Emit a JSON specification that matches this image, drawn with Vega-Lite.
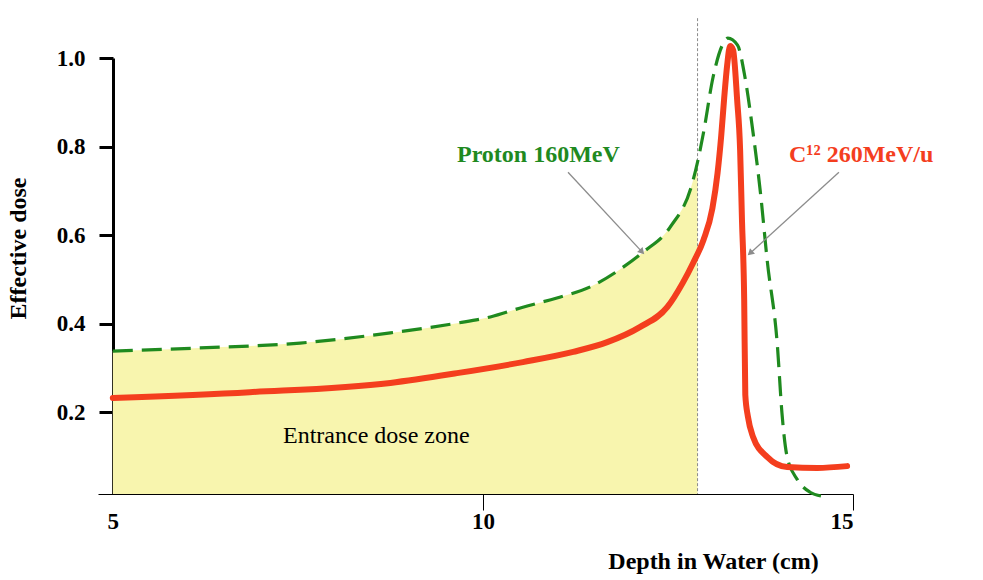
{
  "$schema": "https://vega.github.io/schema/vega-lite/v6.json",
  "width": 755,
  "height": 436,
  "autosize": {"type": "none"},
  "padding": {"left": 98, "top": 58, "right": 130, "bottom": 86},
  "background": "white",
  "config": {"font": "Liberation Serif", "view": {"stroke": null}},
  "datasets": {
    "curves": [
      {"beam": "Proton 160MeV", "depth": 5.0, "dose": 0.338},
      {"beam": "Proton 160MeV", "depth": 6.18, "dose": 0.345},
      {"beam": "Proton 160MeV", "depth": 7.53, "dose": 0.356},
      {"beam": "Proton 160MeV", "depth": 8.75, "dose": 0.379},
      {"beam": "Proton 160MeV", "depth": 9.65, "dose": 0.401},
      {"beam": "Proton 160MeV", "depth": 10.1, "dose": 0.415},
      {"beam": "Proton 160MeV", "depth": 10.54, "dose": 0.437},
      {"beam": "Proton 160MeV", "depth": 11.0, "dose": 0.458},
      {"beam": "Proton 160MeV", "depth": 11.45, "dose": 0.483},
      {"beam": "Proton 160MeV", "depth": 11.9, "dose": 0.528},
      {"beam": "Proton 160MeV", "depth": 12.17, "dose": 0.562},
      {"beam": "Proton 160MeV", "depth": 12.53, "dose": 0.618},
      {"beam": "Proton 160MeV", "depth": 12.83, "dose": 0.718},
      {"beam": "Proton 160MeV", "depth": 12.9, "dose": 0.765},
      {"beam": "Proton 160MeV", "depth": 12.98, "dose": 0.831},
      {"beam": "Proton 160MeV", "depth": 13.11, "dose": 0.957},
      {"beam": "Proton 160MeV", "depth": 13.25, "dose": 1.034},
      {"beam": "Proton 160MeV", "depth": 13.31, "dose": 1.045},
      {"beam": "Proton 160MeV", "depth": 13.44, "dose": 1.029},
      {"beam": "Proton 160MeV", "depth": 13.54, "dose": 0.957},
      {"beam": "Proton 160MeV", "depth": 13.65, "dose": 0.831},
      {"beam": "Proton 160MeV", "depth": 13.75, "dose": 0.695},
      {"beam": "Proton 160MeV", "depth": 13.84, "dose": 0.544},
      {"beam": "Proton 160MeV", "depth": 13.98, "dose": 0.347},
      {"beam": "Proton 160MeV", "depth": 14.04, "dose": 0.198},
      {"beam": "Proton 160MeV", "depth": 14.11, "dose": 0.099},
      {"beam": "Proton 160MeV", "depth": 14.25, "dose": 0.047},
      {"beam": "Proton 160MeV", "depth": 14.42, "dose": 0.019},
      {"beam": "Proton 160MeV", "depth": 14.58, "dose": 0.01},
      {"beam": "C12 260MeV/u", "depth": 5.0, "dose": 0.232},
      {"beam": "C12 260MeV/u", "depth": 6.85, "dose": 0.245},
      {"beam": "C12 260MeV/u", "depth": 8.75, "dose": 0.266},
      {"beam": "C12 260MeV/u", "depth": 9.65, "dose": 0.288},
      {"beam": "C12 260MeV/u", "depth": 10.54, "dose": 0.313},
      {"beam": "C12 260MeV/u", "depth": 11.22, "dose": 0.336},
      {"beam": "C12 260MeV/u", "depth": 11.68, "dose": 0.358},
      {"beam": "C12 260MeV/u", "depth": 12.12, "dose": 0.392},
      {"beam": "C12 260MeV/u", "depth": 12.49, "dose": 0.437},
      {"beam": "C12 260MeV/u", "depth": 12.7, "dose": 0.492},
      {"beam": "C12 260MeV/u", "depth": 12.84, "dose": 0.537},
      {"beam": "C12 260MeV/u", "depth": 12.98, "dose": 0.589},
      {"beam": "C12 260MeV/u", "depth": 13.1, "dose": 0.66},
      {"beam": "C12 260MeV/u", "depth": 13.17, "dose": 0.74},
      {"beam": "C12 260MeV/u", "depth": 13.22, "dose": 0.825},
      {"beam": "C12 260MeV/u", "depth": 13.26, "dose": 0.91},
      {"beam": "C12 260MeV/u", "depth": 13.3, "dose": 0.984},
      {"beam": "C12 260MeV/u", "depth": 13.34, "dose": 1.027},
      {"beam": "C12 260MeV/u", "depth": 13.38, "dose": 1.018},
      {"beam": "C12 260MeV/u", "depth": 13.435, "dose": 0.905},
      {"beam": "C12 260MeV/u", "depth": 13.475, "dose": 0.792},
      {"beam": "C12 260MeV/u", "depth": 13.5, "dose": 0.634},
      {"beam": "C12 260MeV/u", "depth": 13.53, "dose": 0.454},
      {"beam": "C12 260MeV/u", "depth": 13.545, "dose": 0.239},
      {"beam": "C12 260MeV/u", "depth": 13.58, "dose": 0.19},
      {"beam": "C12 260MeV/u", "depth": 13.65, "dose": 0.144},
      {"beam": "C12 260MeV/u", "depth": 13.84, "dose": 0.099},
      {"beam": "C12 260MeV/u", "depth": 14.11, "dose": 0.076},
      {"beam": "C12 260MeV/u", "depth": 14.52, "dose": 0.074},
      {"beam": "C12 260MeV/u", "depth": 14.92, "dose": 0.078}
    ],
    "arrows": [
      {"beam": "Proton 160MeV", "x1": 11.15, "y1": 0.742, "x2": 12.15, "y2": 0.562},
      {"beam": "C12 260MeV/u", "x1": 14.81, "y1": 0.742, "x2": 13.61, "y2": 0.559}
    ]
  },
  "layer": [
    {
      "data": {"name": "curves"},
      "transform": [{"filter": "datum.beam == 'Proton 160MeV' && datum.depth <= 12.9"}],
      "mark": {"type": "area", "color": "#f8f5ae", "interpolate": "monotone"},
      "encoding": {
        "x": {
          "field": "depth", "type": "quantitative",
          "scale": {"domain": [4.8, 15], "nice": false, "zero": false},
          "axis": {
            "values": [5, 10, 15], "format": "d", "title": "Depth in Water (cm)",
            "grid": false, "domainColor": "black", "domainWidth": 1,
            "tickColor": {"condition": {"test": "datum.value == 5", "value": "transparent"}, "value": "black"},
            "tickWidth": 1, "tickSize": 16,
            "labelFont": "Liberation Serif", "labelFontSize": 23, "labelFontWeight": "bold", "labelColor": "black",
            "labelPadding": 0,
            "titleFont": "Liberation Serif", "titleFontSize": 24, "titleFontWeight": "bold", "titleColor": "black",
            "titleX": 615, "titleY": 74, "titleAlign": "center", "titleBaseline": "alphabetic"
          }
        },
        "y": {
          "field": "dose", "type": "quantitative",
          "scale": {"domain": [0.015, 1.0], "nice": false, "zero": false},
          "axis": {
            "values": [0.2, 0.4, 0.6, 0.8, 1.0], "format": ".1f", "title": "Effective dose",
            "grid": false, "offset": -15, "domainColor": "black", "domainWidth": 3,
            "tickColor": "black", "tickWidth": 3, "tickSize": 14,
            "labelFont": "Liberation Serif", "labelFontSize": 23, "labelFontWeight": "bold", "labelColor": "black",
            "labelPadding": 14,
            "titleFont": "Liberation Serif", "titleFontSize": 24, "titleFontWeight": "bold", "titleColor": "black",
            "titleX": -95, "titleY": 190, "titleAngle": -90, "titleAlign": "center", "titleBaseline": "middle"
          }
        },
        "y2": {"datum": 0.015}
      }
    },
    {
      "data": {"values": [{"depth": 12.9}]},
      "mark": {"type": "rule", "color": "#8a8a8a", "strokeWidth": 1, "strokeDash": [3, 2]},
      "encoding": {
        "x": {"field": "depth", "type": "quantitative"},
        "y": {"datum": 1.09, "type": "quantitative"},
        "y2": {"datum": 0.015}
      }
    },
    {
      "data": {"name": "curves"},
      "transform": [{"filter": "datum.beam == 'Proton 160MeV'"}],
      "mark": {"type": "line", "color": "#1f8a1f", "strokeWidth": 3.2, "strokeDash": [20, 9], "interpolate": "monotone"},
      "encoding": {
        "x": {"field": "depth", "type": "quantitative"},
        "y": {"field": "dose", "type": "quantitative"}
      }
    },
    {
      "data": {"name": "curves"},
      "transform": [{"filter": "datum.beam == 'C12 260MeV/u'"}],
      "mark": {"type": "line", "color": "#f43e1e", "strokeWidth": 6, "interpolate": "monotone", "strokeCap": "round"},
      "encoding": {
        "x": {"field": "depth", "type": "quantitative"},
        "y": {"field": "dose", "type": "quantitative"}
      }
    },
    {
      "data": {"name": "arrows"},
      "mark": {"type": "rule", "color": "#8c8c8c", "strokeWidth": 1.3},
      "encoding": {
        "x": {"field": "x1", "type": "quantitative"},
        "y": {"field": "y1", "type": "quantitative"},
        "x2": {"field": "x2"},
        "y2": {"field": "y2"}
      }
    },
    {
      "data": {"name": "arrows"},
      "transform": [{"filter": "datum.beam == 'Proton 160MeV'"}],
      "mark": {"type": "point", "shape": "triangle-up", "filled": true, "color": "#8c8c8c", "opacity": 1, "size": 55, "angle": 137},
      "encoding": {
        "x": {"field": "x2", "type": "quantitative"},
        "y": {"field": "y2", "type": "quantitative"}
      }
    },
    {
      "data": {"name": "arrows"},
      "transform": [{"filter": "datum.beam == 'C12 260MeV/u'"}],
      "mark": {"type": "point", "shape": "triangle-up", "filled": true, "color": "#8c8c8c", "opacity": 1, "size": 55, "angle": 228},
      "encoding": {
        "x": {"field": "x2", "type": "quantitative"},
        "y": {"field": "y2", "type": "quantitative"}
      }
    },
    {
      "data": {"values": [{"label": "Proton 160MeV", "depth": 10.75, "dose": 0.765}]},
      "mark": {"type": "text", "font": "Liberation Serif", "fontSize": 24, "fontWeight": "bold", "color": "#1f8a1f", "align": "center", "baseline": "alphabetic"},
      "encoding": {
        "x": {"field": "depth", "type": "quantitative"},
        "y": {"field": "dose", "type": "quantitative"},
        "text": {"field": "label"}
      }
    },
    {
      "data": {"values": [{"label": "C¹² 260MeV/u", "depth": 15.11, "dose": 0.765}]},
      "mark": {"type": "text", "font": "Liberation Serif", "fontSize": 24, "fontWeight": "bold", "color": "#f43e1e", "align": "center", "baseline": "alphabetic"},
      "encoding": {
        "x": {"field": "depth", "type": "quantitative"},
        "y": {"field": "dose", "type": "quantitative"},
        "text": {"field": "label"}
      }
    },
    {
      "data": {"values": [{"label": "Entrance dose zone", "depth": 8.56, "dose": 0.13}]},
      "mark": {"type": "text", "font": "Liberation Serif", "fontSize": 24, "fontWeight": "normal", "color": "black", "align": "center", "baseline": "alphabetic"},
      "encoding": {
        "x": {"field": "depth", "type": "quantitative"},
        "y": {"field": "dose", "type": "quantitative"},
        "text": {"field": "label"}
      }
    }
  ]
}
